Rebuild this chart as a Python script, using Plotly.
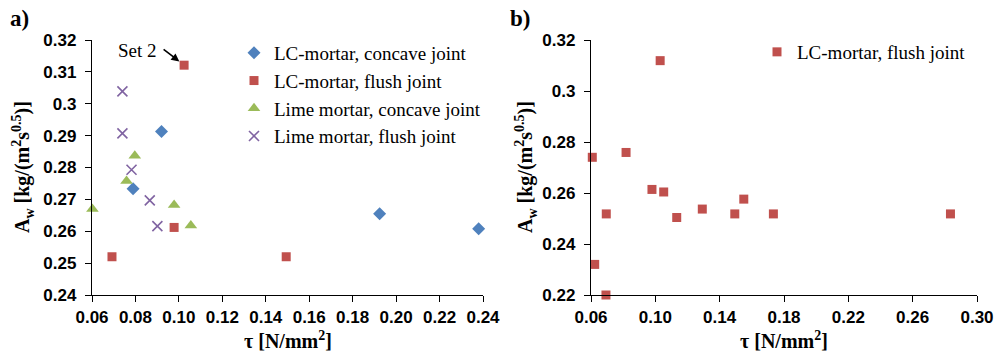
import plotly.graph_objects as go

# ---------------- data (panel a) ----------------
lc_concave_x = [0.0920, 0.0789, 0.1924, 0.2380]
lc_concave_y = [0.2913, 0.2733, 0.2655, 0.2608]

lc_flush_x = [0.1024, 0.0978, 0.0692, 0.1494]
lc_flush_y = [0.3121, 0.2612, 0.2520, 0.2520]

lime_concave_x = [0.0602, 0.0759, 0.0797, 0.0978, 0.1055]
lime_concave_y = [0.2670, 0.2758, 0.2837, 0.2682, 0.2618]

lime_flush_x = [0.0740, 0.0740, 0.0782, 0.0866, 0.0901]
lime_flush_y = [0.3039, 0.2907, 0.2793, 0.2697, 0.2616]

# ---------------- data (panel b) ----------------
b_flush_x = [0.0608, 0.0818, 0.1030, 0.0979, 0.1052, 0.0695, 0.1133,
             0.1292, 0.1494, 0.1550, 0.1734, 0.0623, 0.0693, 0.2835]
b_flush_y = [0.2740, 0.2759, 0.3119, 0.2614, 0.2604, 0.2518, 0.2504,
             0.2537, 0.2518, 0.2576, 0.2518, 0.2320, 0.2200, 0.2518]

# ticks
a_xticks = [0.06, 0.08, 0.10, 0.12, 0.14, 0.16, 0.18, 0.20, 0.22, 0.24]
a_xticktext = ["0.06", "0.08", "0.10", "0.12", "0.14", "0.16", "0.18", "0.20", "0.22", "0.24"]
a_yticks = [0.24, 0.25, 0.26, 0.27, 0.28, 0.29, 0.30, 0.31, 0.32]
a_yticktext = ["0.24", "0.25", "0.26", "0.27", "0.28", "0.29", "0.3", "0.31", "0.32"]
b_xticks = [0.06, 0.10, 0.14, 0.18, 0.22, 0.26, 0.30]
b_xticktext = ["0.06", "0.10", "0.14", "0.18", "0.22", "0.26", "0.30"]
b_yticks = [0.22, 0.24, 0.26, 0.28, 0.30, 0.32]
b_yticktext = ["0.22", "0.24", "0.26", "0.28", "0.3", "0.32"]


def bold(labels):
    return ["<b>" + t + "</b>" for t in labels]


BLUE = "#4F81BD"
RED = "#C0504D"
GREEN = "#9BBB59"
PURPLE = "#8064A2"

fig = go.Figure()

fig.add_trace(go.Scatter(x=lc_concave_x, y=lc_concave_y, mode="markers",
                         name="LC-mortar, concave joint", legend="legend", legendgroup="g1",
                         marker=dict(symbol="diamond", size=10, color=BLUE),
                         xaxis="x", yaxis="y", cliponaxis=False))
fig.add_trace(go.Scatter(x=lc_flush_x, y=lc_flush_y, mode="markers",
                         name="LC-mortar, flush joint", legend="legend", legendgroup="g2",
                         marker=dict(symbol="square", size=9, color=RED),
                         xaxis="x", yaxis="y", cliponaxis=False))
fig.add_trace(go.Scatter(x=lime_concave_x, y=lime_concave_y, mode="markers",
                         name="Lime mortar, concave joint", legend="legend", legendgroup="g3",
                         marker=dict(symbol="triangle-up", size=11, color=GREEN),
                         xaxis="x", yaxis="y", cliponaxis=False))
fig.add_trace(go.Scatter(x=lime_flush_x, y=lime_flush_y, mode="markers",
                         name="Lime mortar, flush joint", legend="legend", legendgroup="g4",
                         marker=dict(symbol="x-thin", size=10, color=PURPLE,
                                     line=dict(width=1.6, color=PURPLE)),
                         xaxis="x", yaxis="y", cliponaxis=False))
fig.add_trace(go.Scatter(x=b_flush_x, y=b_flush_y, mode="markers",
                         name="LC-mortar, flush joint", legend="legend2",
                         marker=dict(symbol="square", size=9, color=RED),
                         xaxis="x2", yaxis="y2", cliponaxis=False))

W, H = 1000, 353
y_dom = [1 - 295 / H, 1 - 40 / H]

tickfont = dict(family="Liberation Sans", size=17, color="black", weight="bold")
axis_common = dict(showgrid=False, zeroline=False, showline=True, linecolor="black",
                   linewidth=1.3, ticks="outside", ticklen=6, tickwidth=1.3,
                   tickcolor="black", tickfont=tickfont, automargin=False)

fig.update_layout(
    width=W, height=H,
    margin=dict(l=0, r=0, t=0, b=0, autoexpand=False),
    paper_bgcolor="white", plot_bgcolor="white",
    xaxis=dict(domain=[92 / W, 483 / W], range=[0.06, 0.24], tickvals=a_xticks,
               ticktext=bold(a_xticktext), anchor="y", **axis_common),
    yaxis=dict(domain=y_dom, range=[0.24, 0.32], tickvals=a_yticks,
               ticktext=bold(a_yticktext), anchor="x", ticklabelstandoff=5, **axis_common),
    xaxis2=dict(domain=[591 / W, 977 / W], range=[0.06, 0.30], tickvals=b_xticks,
                ticktext=bold(b_xticktext), anchor="y2", **axis_common),
    yaxis2=dict(domain=y_dom, range=[0.22, 0.32], tickvals=b_yticks,
                ticktext=bold(b_yticktext), anchor="x2", ticklabelstandoff=5, **axis_common),
    legend=dict(x=234 / W, y=1 - 34 / H, xanchor="left", yanchor="top",
                font=dict(family="Liberation Serif", size=19, color="black"),
                bgcolor="rgba(0,0,0,0)", tracegroupgap=0, itemwidth=30),
    legend2=dict(x=757 / W, y=1 - 33 / H, xanchor="left", yanchor="top",
                 font=dict(family="Liberation Serif", size=19, color="black"),
                 bgcolor="rgba(0,0,0,0)", itemwidth=30),
    showlegend=True,
)

title_font = dict(family="Liberation Serif", size=20, color="black", weight="bold")
ann = [
    dict(text="a)", x=8 / W, y=1 - 18 / H, xref="paper", yref="paper", xanchor="left",
         yanchor="middle", showarrow=False,
         font=dict(family="Liberation Serif", size=23, color="black", weight="bold")),
    dict(text="b)", x=508 / W, y=1 - 18 / H, xref="paper", yref="paper", xanchor="left",
         yanchor="middle", showarrow=False,
         font=dict(family="Liberation Serif", size=23, color="black", weight="bold")),
    dict(text="τ [N/mm<sup>2</sup>]", x=(92 + 483) / 2 / W, y=1 - 340 / H, xref="paper",
         yref="paper", xanchor="center", yanchor="middle", showarrow=False, font=title_font),
    dict(text="τ [N/mm<sup>2</sup>]", x=(591 + 977) / 2 / W, y=1 - 340 / H, xref="paper",
         yref="paper", xanchor="center", yanchor="middle", showarrow=False, font=title_font),
    dict(text="A<sub>w</sub> [kg/(m<sup>2</sup>s<sup>0.5</sup>)]", x=23 / W, y=1 - 167 / H,
         xref="paper", yref="paper", xanchor="center", yanchor="middle", textangle=-90,
         showarrow=False, font=title_font),
    dict(text="A<sub>w</sub> [kg/(m<sup>2</sup>s<sup>0.5</sup>)]", x=526 / W, y=1 - 167 / H,
         xref="paper", yref="paper", xanchor="center", yanchor="middle", textangle=-90,
         showarrow=False, font=title_font),
    dict(text="Set 2", x=137 / W, y=1 - 50 / H, xref="paper", yref="paper",
         xanchor="center", yanchor="middle", showarrow=False,
         font=dict(family="Liberation Serif", size=19, color="black")),
    dict(text="", x=lc_flush_x[0], y=lc_flush_y[0], xref="x", yref="y",
         showarrow=True, ax=-22, ay=-17, arrowhead=2, arrowsize=1, arrowwidth=1.6,
         arrowcolor="black", standoff=6),
]
fig.update_layout(annotations=ann)

fig.write_html("out.html")
